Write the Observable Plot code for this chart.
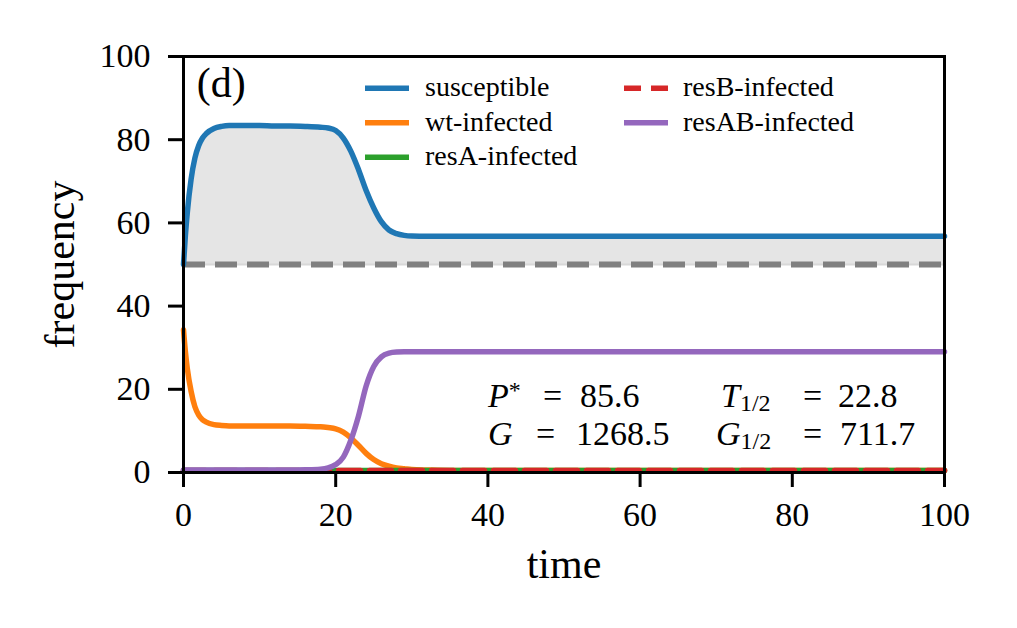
<!DOCTYPE html>
<html><head><meta charset="utf-8">
<script src="https://cdn.jsdelivr.net/npm/d3@7"></script>
<script src="https://cdn.jsdelivr.net/npm/@observablehq/plot@0.6"></script>
<style>
body{margin:0;background:#fff;}
#chart{position:relative;width:1017px;height:628px;}
#chart svg text{font-family:'Liberation Serif', 'DejaVu Serif', serif;}
</style></head><body><div id="chart"></div>
<script>
// ---- data ----
const time = [0, 0.25, 0.5, 1, 1.5, 2, 2.5, 3, 4, 5, 6, 8, 10, 12, 14, 16, 18, 19, 20, 21, 22, 23, 24, 25, 26, 27, 28, 29, 30, 32, 35, 40, 50, 60, 70, 80, 90, 100];
const susceptible = [50, 57, 62.5, 70.5, 75.6, 78.6, 80.4, 81.5, 82.7, 83.2, 83.4, 83.4, 83.4, 83.3, 83.3, 83.2, 83.0, 82.8, 82.2, 80.4, 77.2, 72.8, 67.8, 63.6, 60.3, 58.3, 57.4, 57.0, 56.85, 56.8, 56.8, 56.8, 56.8, 56.8, 56.8, 56.8, 56.8, 56.8];
const wtInfected = [34.3, 29, 25, 19.5, 15.8, 13.8, 12.7, 12.1, 11.5, 11.3, 11.2, 11.2, 11.2, 11.2, 11.2, 11.1, 11.0, 10.8, 10.5, 9.7, 8.3, 6.5, 4.6, 3.1, 2.1, 1.5, 1.1, 0.9, 0.7, 0.6, 0.5, 0.5, 0.5, 0.5, 0.5, 0.5, 0.5, 0.5];
const resAInfected = [0.5, 0.5, 0.5, 0.5, 0.5, 0.5, 0.5, 0.5, 0.5, 0.5, 0.5, 0.5, 0.5, 0.5, 0.5, 0.5, 0.5, 0.5, 0.5, 0.5, 0.5, 0.5, 0.5, 0.5, 0.5, 0.5, 0.5, 0.5, 0.5, 0.5, 0.5, 0.5, 0.5, 0.5, 0.5, 0.5, 0.5, 0.5];
const resBInfected = [0.5, 0.5, 0.5, 0.5, 0.5, 0.5, 0.5, 0.5, 0.5, 0.5, 0.5, 0.5, 0.5, 0.5, 0.5, 0.5, 0.5, 0.5, 0.5, 0.5, 0.5, 0.5, 0.5, 0.5, 0.5, 0.5, 0.5, 0.5, 0.5, 0.5, 0.5, 0.5, 0.5, 0.5, 0.5, 0.5, 0.5, 0.5];
const resABInfected = [0.6, 0.6, 0.6, 0.6, 0.6, 0.6, 0.6, 0.6, 0.6, 0.6, 0.6, 0.6, 0.6, 0.6, 0.6, 0.65, 0.8, 1.1, 1.9, 3.7, 7.8, 13.6, 20.8, 25.5, 27.8, 28.7, 28.95, 29.0, 29.0, 29.0, 29.0, 29.0, 29.0, 29.0, 29.0, 29.0, 29.0, 29.0];
const baseline = 50;
const xTicks = [0, 20, 40, 60, 80, 100];
const yTicks = [0, 20, 40, 60, 80, 100];
const seriesNames = ["susceptible", "wt-infected", "resA-infected", "resB-infected", "resAB-infected"];
const seriesValues = [susceptible, wtInfected, resAInfected, resBInfected, resABInfected];
const seriesColors = ["#1f77b4", "#ff7f0e", "#2ca02c", "#d62728", "#9467bd"];
const seriesDash = [null, null, null, "22,9", null];
const panelLabel = "(d)";
const xLabel = "time";
const yLabel = "frequency";
const stats = {P: "85.6", G: "1268.5", T: "22.8", G12: "711.7"};

// ---- build tables ----
const tables = seriesValues.map((vals, i) => time.map((t, j) => ({time: t, value: vals[j], series: seriesNames[i]})));

const FONT = "'Liberation Serif', 'DejaVu Serif', serif";

const lineMarks = tables.map((rows, i) => Plot.line(rows, {
  x: "time", y: "value", stroke: seriesColors[i], strokeWidth: 5.5,
  strokeDasharray: seriesDash[i] || undefined, curve: "monotone-x"
}));

const plot = Plot.plot({
  width: 1017, height: 628,
  marginLeft: 183, marginRight: 73, marginTop: 56, marginBottom: 156,
  style: {fontFamily: FONT, fontSize: "34px", color: "black", background: "white"},
  x: {domain: [0, 100]},
  y: {domain: [0, 100]},
  marks: [
    Plot.areaY(tables[0], {x: "time", y1: baseline, y2: "value", fill: "#e5e5e5", curve: "monotone-x"}),
    Plot.ruleY([baseline], {stroke: "#d8d8d8", strokeWidth: 2}),
    Plot.ruleY([baseline], {stroke: "#808080", strokeWidth: 6, strokeDasharray: "22,10"}),
    ...lineMarks,
    Plot.frame({stroke: "black", strokeWidth: 3}),
    Plot.axisX({ticks: xTicks, tickSize: 15, tickPadding: 14, strokeWidth: 3, label: null, fontSize: 34}),
    Plot.axisY({ticks: yTicks, tickSize: 15, tickPadding: 18, strokeWidth: 3, label: null, fontSize: 34}),
    Plot.text([xLabel], {frameAnchor: "bottom", lineAnchor: "middle", textAnchor: "middle", dy: 92, fontSize: 42, text: d => d}),
    Plot.text([yLabel], {frameAnchor: "left", lineAnchor: "middle", textAnchor: "middle", dx: -123, rotate: -90, fontSize: 42, text: d => d})
  ]
});
document.getElementById("chart").appendChild(plot);

const svg = d3.select(plot);
const sx = plot.scale("x");

// panel label
svg.append("text").attr("text-anchor", "start").attr("x", sx.apply(1.8)).attr("y", 97)
  .style("font-family", FONT).attr("font-size", 42).text(panelLabel);

// legend
const legend = svg.append("g").style("font-family", FONT).attr("font-size", 28).attr("text-anchor", "start");
const rowsY = [88.3, 122.7, 157.3];
seriesNames.forEach((name, i) => {
  const col = i < 3 ? 0 : 1;
  const row = i < 3 ? i : i - 3;
  const x0 = col === 0 ? 365 : 624;
  const cy = rowsY[row];
  legend.append("line").attr("x1", x0).attr("x2", x0 + 44).attr("y1", cy).attr("y2", cy)
    .attr("stroke", seriesColors[i]).attr("stroke-width", 5.5)
    .attr("stroke-dasharray", seriesDash[i] ? "17,10" : null);
  legend.append("text").attr("x", col === 0 ? 425 : 683).attr("y", cy + 8).text(name);
});

// annotations
const ann = svg.append("g").style("font-family", FONT).attr("font-size", 34).attr("text-anchor", "start");
function addEq(x, y, sym, sup, sub, eqX, valX, val) {
  const t = ann.append("text").attr("y", y);
  t.append("tspan").attr("x", x).attr("font-style", "italic").text(sym);
  if (sup) t.append("tspan").attr("font-size", 24).attr("dy", -9).text(sup);
  if (sub) t.append("tspan").attr("font-size", 24).attr("dy", 4).text(sub);
  t.append("tspan").attr("x", eqX).attr("y", y).text("=");
  t.append("tspan").attr("x", valX).attr("y", y).text(val);
}
addEq(488, 406.7, "P", "*", null, 543, 580, stats.P);
addEq(488, 445, "G", null, null, 536, 576, stats.G);
addEq(721, 406.7, "T", null, "1/2", 803, 838, stats.T);
addEq(716, 445, "G", null, "1/2", 803, 840, stats.G12);
</script></body></html>
